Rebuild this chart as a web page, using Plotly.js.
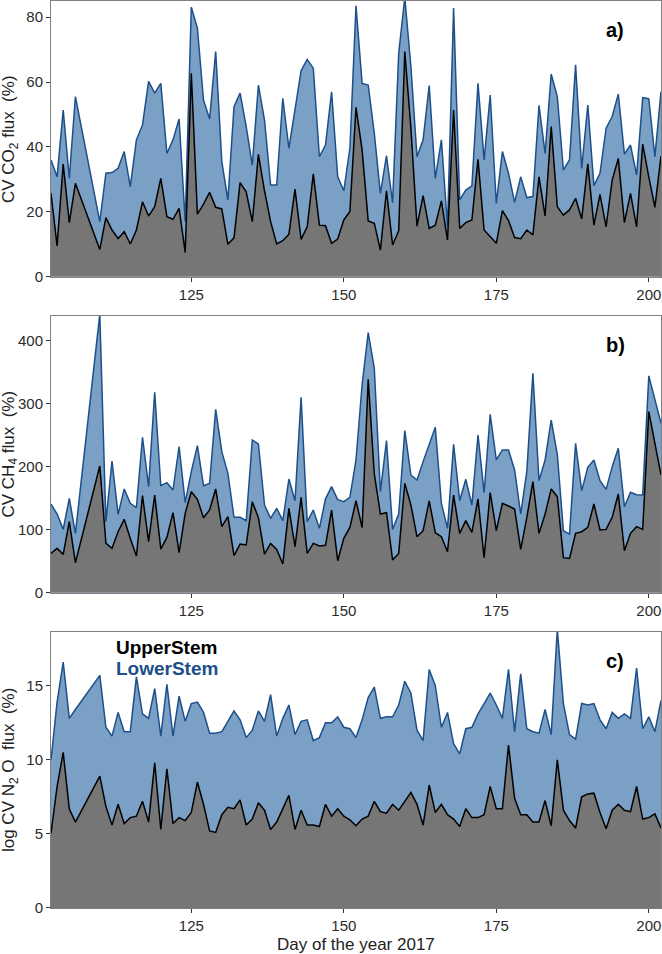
<!DOCTYPE html>
<html>
<head>
<meta charset="utf-8">
<script src="https://cdn.plot.ly/plotly-3.0.1.min.js"></script>
<style>html,body{margin:0;padding:0;background:#fff}#chart{width:662px;height:954px}</style>
</head>
<body>
<div id="chart"></div>
<script>
const days = [102,103,104,105,106,110,111,112,113,114,115,116,117,118,119,120,121,122,123,124,125,126,127,128,129,130,131,132,133,134,135,136,137,138,139,140,141,142,143,144,145,146,147,148,149,150,151,152,153,154,155,156,157,158,159,160,161,162,163,164,165,166,167,168,169,170,171,172,173,174,175,176,177,178,179,180,181,182,183,184,185,186,187,188,189,190,191,192,193,194,195,196,197,198,199,200,201,202];

// Panel a: CV CO2 flux (%)
const co2Lower = [36.0,30.8,51.4,30.3,55.5,17.0,31.9,32.1,33.4,38.6,27.8,42.2,46.8,60.2,56.6,59.6,38.0,42.2,48.6,17.0,83.1,76.6,54.5,48.6,69.4,35.5,23.7,52.4,56.6,46.3,34.4,59.1,48.3,28.3,28.3,55.0,39.6,51.0,63.5,67.0,64.3,37.0,40.6,57.0,30.8,26.5,39.6,83.5,59.6,59.1,44.2,25.7,37.3,22.8,68.9,86.0,64.8,37.0,42.2,58.9,30.3,42.2,15.4,82.8,23.7,26.7,28.0,59.6,36.0,56.0,22.6,38.6,31.9,22.9,30.8,24.4,24.7,52.8,38.0,62.5,55.5,32.9,36.0,65.3,33.4,52.9,28.1,31.9,45.8,49.4,56.3,37.8,40.6,31.4,55.2,54.9,37.0,57.0];
const co2Upper = [25.7,9.5,34.7,16.7,28.8,8.4,18.2,14.4,11.8,13.9,10.1,14.4,23.1,18.7,21.6,30.3,18.5,17.7,21.1,7.5,62.7,19.3,22.4,26.0,21.4,20.9,10.0,12.0,29.0,26.2,17.0,37.7,26.5,17.0,10.1,11.1,13.1,27.0,11.5,15.4,31.7,15.9,15.7,10.3,11.6,17.5,20.1,52.2,39.1,17.2,16.5,8.2,26.5,9.8,14.2,69.4,45.8,15.6,25.0,14.9,15.9,23.4,11.3,51.4,14.9,16.7,17.5,36.2,14.4,12.5,10.3,20.4,17.3,12.1,11.7,14.4,12.9,30.8,18.7,46.3,21.6,19.0,20.6,24.2,17.8,34.8,15.9,25.4,15.4,29.8,36.5,16.7,25.7,15.4,40.9,30.8,21.4,37.2];

// Panel b: CV CH4 flux (%)
const ch4Lower = [140.7,124.9,100.5,149.7,94.2,442,112.7,209,124.3,164.6,141.8,134.9,246.6,168.3,318,169.8,174.6,163,231.7,142.9,192,233.3,169.8,173.5,291,223.8,189.4,119.6,119.6,114.3,242.3,236,139.2,118,133.9,114.3,180.4,146,310,112.7,131.2,102.1,149,168.3,147.6,144.4,151.3,210.6,330,412.7,356,160.3,241.3,100.5,124.9,257.1,186.8,178.8,208,235.4,262.4,141.8,102.1,235.4,146,179.9,139.2,250.3,158.7,283,210.6,226.5,226.5,194.7,124.9,192,348,177.8,210.6,274,219.6,98.4,93.1,237,161.9,199,210.6,177.8,164,200,229.1,136.5,159.3,155.6,155,344,308.5,268.8];
const ch4Upper = [62.4,70.4,60.8,112.7,47.6,201,78.3,70.4,96.8,116.4,86.2,58.2,154,81,155,69.3,87.8,127,63.5,126,160.3,148.1,119,131.2,164.6,104.8,120.6,58.7,77.2,75.7,144.4,119,61.4,78.3,68.8,45.5,133.9,73,151.3,62.4,78.3,74.1,75.2,131.2,50.8,86.2,103.7,146,103.2,338.6,188.4,124.9,127,51.9,62.4,173.5,139.2,88.9,98.4,145.5,95.2,88.9,65.1,155,94.2,114.3,95.8,148.7,55.6,158.7,98.4,141.8,137.6,132.8,68.8,119,176.2,94.2,124.9,164.6,152.4,55.6,54.5,94.2,96.8,103.7,140.7,99.5,100.5,119.6,156.6,66.7,94.2,104.8,100.5,287.3,237,186.8];

// Panel c: log CV N2O flux (%)
const n2oLower = [10.0,13.9,16.6,12.8,13.4,15.7,12.2,11.6,13.2,11.9,11.9,15.6,13.1,12.8,14.8,11.6,15.1,11.6,14.3,12.6,13.8,13.9,13.2,11.8,11.8,11.9,12.6,13.3,12.7,11.5,12.0,13.3,12.6,14.4,11.6,12.8,13.7,11.7,12.6,12.7,11.3,11.5,12.5,12.5,12.9,12.2,12.1,11.5,12.7,14.2,14.9,12.8,12.9,12.9,13.7,15.3,14.5,12.0,11.3,16.1,15.0,12.2,13.2,11.1,10.4,12.1,12.2,13.1,13.8,14.5,13.7,12.8,16.1,11.9,15.8,12.1,11.9,11.8,13.4,11.7,18.8,13.8,11.7,11.4,13.8,13.7,13.8,12.7,12.1,13.2,12.8,13.1,12.8,16.2,12.1,12.9,11.9,14.0];
const n2oUpper = [5.05,8.2,10.5,6.7,5.8,8.9,6.85,5.6,7.0,5.7,6.1,6.2,7.2,5.8,9.8,5.3,9.4,5.7,6.1,5.9,6.45,8.5,7.0,5.2,5.1,6.3,6.8,6.7,7.3,5.6,6.0,7.1,6.6,5.3,5.8,6.7,7.6,5.3,6.6,5.6,5.6,5.5,7.0,6.2,6.7,6.2,5.95,5.55,6.0,6.2,7.2,6.5,6.4,7.0,6.6,7.2,7.8,7.0,5.6,8.3,6.45,7.0,6.3,6.0,5.5,6.7,6.1,6.1,6.3,8.2,6.7,6.7,11.0,7.4,6.3,6.3,5.8,5.8,7.25,5.55,10.0,6.6,5.9,5.4,7.5,7.7,7.75,6.45,5.35,6.6,7.0,6.6,6.5,8.2,6.0,6.1,6.35,5.4];

const xTicks = [125,150,175,200];
const yTicksA = [0,20,40,60,80];
const yTicksB = [0,100,200,300,400];
const yTicksC = [0,5,10,15];
const seriesNames = ["UpperStem","LowerStem"];
const panelLabels = ["a)","b)","c)"];
const yTitles = ["CV CO<sub>2</sub> flux&nbsp;&nbsp;(%)","CV CH<sub>4</sub> flux&nbsp;&nbsp;(%)","log CV N<sub>2</sub> O&nbsp;&nbsp;flux&nbsp;&nbsp;(%)"];
const xTitle = "Day of the year 2017";

const blueLine = "#1d4f8a", blueFill = "#7aa0c5", greyFill = "#767676";
const FAM = "Liberation Sans, Arial, sans-serif";

function pair(lower, upper, xa, ya) {
  return [
    {x: days, y: lower, type: "scatter", mode: "lines", fill: "tozeroy",
     fillcolor: blueFill, line: {color: blueLine, width: 1.5}, xaxis: xa, yaxis: ya,
     name: seriesNames[1], showlegend: false, hoverinfo: "x+y"},
    {x: days, y: upper, type: "scatter", mode: "lines", fill: "tozeroy",
     fillcolor: greyFill, line: {color: "#000000", width: 1.5}, xaxis: xa, yaxis: ya,
     name: seriesNames[0], showlegend: false, hoverinfo: "x+y"}
  ];
}

const data = [].concat(
  pair(co2Lower, co2Upper, "x", "y"),
  pair(ch4Lower, ch4Upper, "x2", "y2"),
  pair(n2oLower, n2oUpper, "x3", "y3")
);

const tickFont = {family: FAM, size: 15, color: "#2b2b2b"};

function xax(anchor) {
  return {anchor: anchor, range: [102, 202], tickvals: xTicks, ticktext: xTicks.map(String),
    ticks: "outside", ticklen: 4, tickcolor: "#333", showgrid: false, zeroline: false,
    showline: true, mirror: true, linecolor: "#7f7f7f", linewidth: 1,
    tickfont: tickFont, fixedrange: true};
}
function yax(anchor, dom, rng, tv) {
  return {anchor: anchor, domain: dom, range: rng, tickvals: tv, ticktext: tv.map(String),
    ticks: "outside", ticklen: 4, tickcolor: "#333", showgrid: false, zeroline: false,
    showline: true, mirror: true, linecolor: "#7f7f7f", linewidth: 1,
    tickfont: tickFont, fixedrange: true};
}

const annotations = [];
const yrefs = ["y", "y2", "y3"];
const xrefs = ["x", "x2", "x3"];
for (let i = 0; i < 3; i++) {
  annotations.push({text: "<b>" + panelLabels[i] + "</b>", xref: xrefs[i] + " domain", yref: yrefs[i] + " domain",
    x: 0.925, y: 0.895, xanchor: "center", yanchor: "middle", showarrow: false,
    font: {family: FAM, size: 20, color: "#000"}});
  annotations.push({text: yTitles[i], xref: "paper", yref: yrefs[i] + " domain",
    x: -0.067, y: 0.5, xanchor: "center", yanchor: "middle", textangle: -90, showarrow: false,
    font: {family: FAM, size: 17, color: "#222"}});
}
annotations.push({text: "<b>" + seriesNames[0] + "</b>", xref: "x3 domain", yref: "y3 domain",
  x: 0.104, y: 0.942, xanchor: "left", yanchor: "middle", showarrow: false,
  font: {family: FAM, size: 19, color: "#000"}});
annotations.push({text: "<b>" + seriesNames[1] + "</b>", xref: "x3 domain", yref: "y3 domain",
  x: 0.104, y: 0.866, xanchor: "left", yanchor: "middle", showarrow: false,
  font: {family: FAM, size: 19, color: blueLine}});
annotations.push({text: xTitle, xref: "paper", yref: "paper", x: 0.5, y: -0.040,
  xanchor: "center", yanchor: "middle", showarrow: false,
  font: {family: FAM, size: 17, color: "#222"}});

const layout = {
  width: 662, height: 954,
  margin: {l: 51, r: 1, t: 1, b: 46},
  paper_bgcolor: "#ffffff", plot_bgcolor: "#ffffff",
  showlegend: false,
  xaxis: xax("y"), xaxis2: xax("y2"), xaxis3: xax("y3"),
  yaxis: yax("x", [0.696, 1.0], [0, 85], yTicksA),
  yaxis2: yax("x2", [0.3476, 0.6527], [0, 439], yTicksB),
  yaxis3: yax("x3", [0, 0.3045], [0, 18.64], yTicksC),
  annotations: annotations,
  font: tickFont
};

Plotly.newPlot("chart", data, layout, {staticPlot: true, displayModeBar: false});
</script>
</body>
</html>
